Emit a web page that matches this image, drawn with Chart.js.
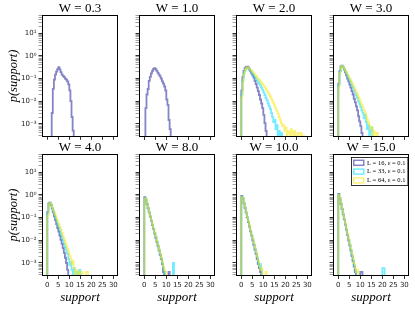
<!DOCTYPE html>
<html>
<head>
<meta charset="utf-8">
<script src="https://cdn.jsdelivr.net/npm/chart.js@4.4.1/dist/chart.umd.min.js"></script>
<style>
  html, body { margin: 0; padding: 0; background: #fff; overflow: hidden; }
  #wrap { position: relative; width: 415px; height: 310px; }
  #wrap canvas { position: absolute; }
</style>
</head>
<body>
<div id="wrap"></div>
<script>
// ---- data: density histograms, bins 0.5 wide, first bin starts at support = 0 ----
const wValues = [0.3, 1.0, 2.0, 3.0, 4.0, 8.0, 10.0, 15.0];
const seriesLabels = ['L = 16, ε = 0.1', 'L = 33, ε = 0.1', 'L = 64, ε = 0.1'];
const seriesColors = ['rgba(50,50,160,0.6)', 'rgba(0,220,255,0.55)', 'rgba(250,232,30,0.6)'];
const binWidth = 0.5;
const xTicks = [0, 5, 10, 15, 20, 25, 30];
const yDecades = [-4, -3, -2, -1, 0, 1];
const yMultipliers = [1, 2, 3, 4, 5, 6, 7, 8, 9];

const w03_L16 = [0, 0, 0, 0, 0.003, 0.035, 0.09, 0.15, 0.2, 0.26, 0.32, 0.25, 0.19, 0.15, 0.13, 0.115, 0.1, 0.09, 0.075, 0.055, 0.03, 0.01, 0.002, 0.0005];

const w10_L16 = [0, 0.005, 0.02, 0.035, 0.08, 0.12, 0.17, 0.22, 0.27, 0.29, 0.26, 0.22, 0.18, 0.15, 0.125, 0.1, 0.075, 0.06, 0.045, 0.03, 0.012, 0.007, 0.0015, 0.0006];

const w20_L16 = [0.03, 0.12, 0.22, 0.29, 0.33, 0.34, 0.31, 0.26, 0.21, 0.17, 0.14, 0.11, 0.08, 0.058, 0.04, 0.028, 0.019, 0.012, 0.008, 0.005, 0.0025, 0.0011, 0.0005];
const w20_L33 = [0.02, 0.08, 0.17, 0.24, 0.28, 0.29, 0.28, 0.25, 0.22, 0.19, 0.16, 0.14, 0.12, 0.1, 0.085, 0.072, 0.06, 0.05, 0.04, 0.032, 0.025, 0.019, 0.014, 0.011, 0.008, 0.006, 0.0045, 0.003, 0.002, 0.0012, 0.0015, 0.0006, 0.0009, 0, 0.0005, 0, 0.0004];
const w20_L64 = [0.015, 0.07, 0.16, 0.24, 0.29, 0.31, 0.3, 0.28, 0.25, 0.22, 0.195, 0.17, 0.15, 0.13, 0.115, 0.1, 0.088, 0.076, 0.066, 0.057, 0.049, 0.042, 0.035, 0.029, 0.024, 0.02, 0.016, 0.013, 0.01, 0.008, 0.0062, 0.0048, 0.0037, 0.0028, 0.002, 0.0015, 0.0011, 0.0008, 0.0009, 0.0005, 0.0007, 0, 0.0005, 0.0004, 0, 0.0006, 0.0004, 0, 0.0005, 0, 0, 0.0004, 0, 0, 0.0004, 0, 0.0003];

const w30_L16 = [0.06, 0.22, 0.35, 0.37, 0.32, 0.25, 0.19, 0.14, 0.1, 0.075, 0.055, 0.04, 0.028, 0.02, 0.013, 0.009, 0.006, 0.004, 0.0022, 0.0013, 0.0008, 0.0004];
const w30_L33 = [0.05, 0.2, 0.33, 0.36, 0.32, 0.27, 0.22, 0.175, 0.14, 0.11, 0.087, 0.068, 0.053, 0.041, 0.032, 0.024, 0.018, 0.014, 0.01, 0.0075, 0.0055, 0.004, 0.003, 0.0018, 0.0025, 0.0012, 0.0006, 0.0009, 0, 0.0005, 0.0007];
const w30_L64 = [0.04, 0.18, 0.32, 0.36, 0.33, 0.28, 0.23, 0.19, 0.155, 0.125, 0.1, 0.08, 0.064, 0.05, 0.04, 0.032, 0.025, 0.02, 0.015, 0.012, 0.009, 0.007, 0.0055, 0.004, 0.003, 0.0022, 0.0015, 0.0012, 0.0008, 0.0006, 0.0007, 0, 0.0005, 0.0004, 0, 0.0004];

const w40_L16 = [0.18, 0.42, 0.46, 0.36, 0.25, 0.17, 0.115, 0.078, 0.052, 0.035, 0.024, 0.016, 0.0105, 0.007, 0.0045, 0.0028, 0.0017, 0.001, 0.0005];
const w40_L33 = [0.15, 0.4, 0.46, 0.37, 0.27, 0.2, 0.145, 0.105, 0.075, 0.054, 0.039, 0.028, 0.02, 0.014, 0.01, 0.007, 0.005, 0.0035, 0.0025, 0.0015, 0.0008, 0.0011, 0.0005, 0, 0.0006, 0.0004, 0, 0.0004, 0, 0.0005];
const w40_L64 = [0.12, 0.38, 0.45, 0.38, 0.29, 0.22, 0.165, 0.125, 0.093, 0.07, 0.052, 0.039, 0.029, 0.021, 0.015, 0.011, 0.008, 0.006, 0.0042, 0.003, 0.0021, 0.0015, 0.0009, 0.0012, 0.0006, 0, 0.0005, 0, 0.0004, 0, 0, 0.0004, 0, 0, 0, 0.0004, 0.0004];

const w80_L16 = [0.8, 0.62, 0.4, 0.26, 0.17, 0.11, 0.072, 0.047, 0.031, 0.02, 0.013, 0.0085, 0.0055, 0.0036, 0.0023, 0.0015, 0.0009, 0.0004, 0, 0, 0, 0, 0.0004];
const w80_L33 = [0.75, 0.64, 0.42, 0.27, 0.175, 0.115, 0.075, 0.05, 0.033, 0.021, 0.014, 0.009, 0.006, 0.0039, 0.0025, 0.0016, 0.001, 0.0006, 0.0004, 0, 0, 0, 0, 0, 0, 0, 0.001];
const w80_L64 = [0.7, 0.65, 0.43, 0.28, 0.18, 0.12, 0.079, 0.052, 0.034, 0.022, 0.015, 0.0095, 0.0062, 0.004, 0.0027, 0.0017, 0.0011, 0.0007, 0.0005, 0.0004];

const w100_L16 = [0.9, 0.7, 0.43, 0.27, 0.165, 0.1, 0.064, 0.04, 0.025, 0.016, 0.01, 0.0062, 0.0039, 0.0025, 0.0015, 0.0009, 0.0006, 0.0004];
const w100_L33 = [0.85, 0.72, 0.45, 0.28, 0.17, 0.105, 0.066, 0.042, 0.026, 0.017, 0.011, 0.0068, 0.0043, 0.0028, 0.0018, 0.0011, 0.0007, 0.0009, 0.0005];
const w100_L64 = [0.8, 0.75, 0.47, 0.3, 0.18, 0.11, 0.07, 0.045, 0.028, 0.018, 0.012, 0.0075, 0.0048, 0.003, 0.002, 0.0013, 0.0008, 0.0005, 0.0006, 0, 0, 0, 0.0004];

const w150_L16 = [1.1, 0.68, 0.4, 0.24, 0.14, 0.083, 0.049, 0.029, 0.017, 0.01, 0.006, 0.0035, 0.002, 0.0012, 0.0007, 0.0004, 0, 0, 0, 0, 0.0004, 0.0004];
const w150_L33 = [1.05, 0.7, 0.41, 0.245, 0.145, 0.086, 0.051, 0.03, 0.018, 0.0105, 0.0063, 0.0037, 0.0022, 0.0013, 0.0008, 0.0005, 0, 0, 0, 0, 0, 0, 0, 0, 0, 0, 0, 0, 0, 0, 0, 0, 0, 0, 0, 0, 0, 0, 0, 0, 0.0006, 0.0006];
const w150_L64 = [1.0, 0.72, 0.43, 0.26, 0.155, 0.092, 0.055, 0.033, 0.02, 0.012, 0.0072, 0.0043, 0.0026, 0.0016, 0.001, 0.0006, 0.0004, 0.0005];

// one entry per panel, series in L = 16, 33, 64 order
const panelSeries = [
  [w03_L16],
  [w10_L16],
  [w20_L16, w20_L33, w20_L64],
  [w30_L16, w30_L33, w30_L64],
  [w40_L16, w40_L33, w40_L64],
  [w80_L16, w80_L33, w80_L64],
  [w100_L16, w100_L33, w100_L64],
  [w150_L16, w150_L33, w150_L64]
];

// ---- layout ----
const plotLeft = [42, 139, 236, 333];
const plotTop = [15, 154];
const plotW = 76, plotH = 122;
const xMin = -2.4, xMax = 32.1;
const yMin = 2.67e-4, yMax = 64;
const zeroFloor = 1e-7;   // empty bins: drawn below the axis and clipped

const supChars = { '-': '⁻', '0': '⁰', '1': '¹', '2': '²', '3': '³', '4': '⁴' };
function isDecade(v){
  const l = Math.log10(v);
  return Math.abs(l - Math.round(l)) < 1e-9;
}
function decadeLabel(v){
  if(!isDecade(v)) return '';
  const e = String(Math.round(Math.log10(v)));
  return '10' + e.split('').map(ch => supChars[ch]).join('');
}
const yTickValues = [];
yDecades.forEach(d => yMultipliers.forEach(m => {
  const v = m * Math.pow(10, d);
  if(v >= yMin && v <= yMax) yTickValues.push(v);
}));

// histogram as a step line: points at left bin edges, closed down to the floor
function stepPoints(values){
  const pts = [{ x: 0, y: zeroFloor }];
  values.forEach((v, i) => pts.push({ x: i * binWidth, y: v > 0 ? v : zeroFloor }));
  pts.push({ x: values.length * binWidth, y: zeroFloor });
  return pts;
}

const framePlugin = {
  id: 'frame',
  afterDatasetsDraw(chart){
    const { ctx, chartArea: a } = chart;
    ctx.save();
    ctx.strokeStyle = '#000';
    ctx.lineWidth = 1;
    ctx.strokeRect(Math.round(a.left) + 0.5, Math.round(a.top) + 0.5, Math.round(a.width) - 1, Math.round(a.height) - 1);
    ctx.restore();
  }
};

const boxLegend = {
  id: 'boxLegend',
  afterDatasetsDraw(chart, args, opts){
    if(!opts.show) return;
    const { ctx, chartArea: a } = chart;
    const items = chart.data.datasets;
    ctx.save();
    ctx.font = '6.5px "Liberation Serif"';
    const textW = Math.max(...items.map(d => ctx.measureText(d.label).width));
    const pad = 1.5, patchW = 11.5, gap = 2.5, rowH = 8.8;
    const w = pad + patchW + gap + textW + pad + 1;
    const h = 5.3 + rowH * (items.length - 1) + 5;
    const x0 = Math.round(a.right - 2 - w) + 0.5, y0 = Math.round(a.top + 3) + 0.5;
    ctx.fillStyle = '#fff';
    ctx.fillRect(x0, y0, w, h);
    ctx.strokeStyle = '#000';
    ctx.lineWidth = 0.8;
    ctx.strokeRect(x0, y0, w, h);
    items.forEach((d, i) => {
      const cy = y0 + 5.3 + i * rowH;
      ctx.strokeStyle = d.borderColor;
      ctx.lineWidth = 1.5;
      ctx.strokeRect(x0 + pad + 0.75, cy - 2.5, patchW - 1.5, 5);
      ctx.fillStyle = '#000';
      ctx.textAlign = 'left';
      ctx.textBaseline = 'middle';
      ctx.fillText(d.label, x0 + pad + patchW + gap, cy);
    });
    ctx.restore();
  }
};

const wrap = document.getElementById('wrap');

wValues.forEach((w, idx) => {
  const r = Math.floor(idx / 4), c = idx % 4;
  const L = c === 0 ? 42 : 8, R = 2, T = 16, B = r === 1 ? 310 - (plotTop[1] + plotH) : 6;
  const cv = document.createElement('canvas');
  cv.width = L + plotW + R;
  cv.height = T + plotH + B;
  cv.style.width = cv.width + 'px';
  cv.style.height = cv.height + 'px';
  cv.style.left = (plotLeft[c] - L) + 'px';
  cv.style.top = (plotTop[r] - T) + 'px';
  wrap.appendChild(cv);

  // later series are drawn on top (L = 64 last), as in the original
  const datasets = panelSeries[idx].map((vals, k) => ({
    label: seriesLabels[k],
    data: stepPoints(vals),
    borderColor: seriesColors[k],
    borderWidth: 1.8,
    pointRadius: 0,
    stepped: 'before',
    fill: false,
    clip: 0,
    order: 3 - k
  }));

  new Chart(cv, {
    type: 'line',
    data: { datasets },
    options: {
      responsive: false,
      animation: false,
      devicePixelRatio: 1,
      events: [],
      layout: { padding: { left: 0, right: R, top: 0, bottom: 0 } },
      plugins: {
        legend: { display: false },
        tooltip: { enabled: false },
        title: {
          display: true,
          fullSize: false,
          text: 'W = ' + w.toFixed(1),
          color: '#000',
          font: { family: 'Liberation Serif', size: 13, weight: 'normal', lineHeight: 1 },
          padding: { top: 3, bottom: 0 }
        },
        boxLegend: { show: idx === 7 }
      },
      scales: {
        x: {
          type: 'linear',
          min: xMin,
          max: xMax,
          afterBuildTicks: s => { s.ticks = xTicks.map(v => ({ value: v })); },
          afterFit: s => { s.height = B; },
          ticks: { display: r === 1, autoSkip: false, maxRotation: 0, padding: 2, color: '#222',
                   font: { family: 'DejaVu Sans', size: 7 } },
          grid: { drawOnChartArea: false, drawTicks: true, tickLength: 3, tickColor: '#000', tickWidth: 0.8 },
          border: { display: false },
          title: { display: r === 1, text: 'support', color: '#000',
                   font: { family: 'Liberation Serif', size: 13, style: 'italic' },
                   padding: { top: 0, bottom: 5 } }
        },
        y: {
          type: 'logarithmic',
          min: yMin,
          max: yMax,
          afterBuildTicks: s => { s.ticks = yTickValues.map(v => ({ value: v })); },
          afterFit: s => { s.width = L; },
          ticks: { display: c === 0, autoSkip: false, padding: 2, color: '#222',
                   font: { family: 'DejaVu Sans', size: 7 },
                   callback: v => decadeLabel(v) },
          grid: { drawOnChartArea: false, drawTicks: true, tickLength: 3.5,
                  tickColor: ctx => isDecade(ctx.tick.value) ? '#000' : '#444',
                  tickWidth: ctx => isDecade(ctx.tick.value) ? 0.8 : 0.5 },
          border: { display: false },
          title: { display: c === 0, text: 'p(support)', color: '#000',
                   font: { family: 'Liberation Serif', size: 12.5, style: 'italic' },
                   padding: { top: 6.5, bottom: 0 } }
        }
      }
    },
    plugins: [framePlugin, boxLegend]
  });
});
</script>
</body>
</html>
